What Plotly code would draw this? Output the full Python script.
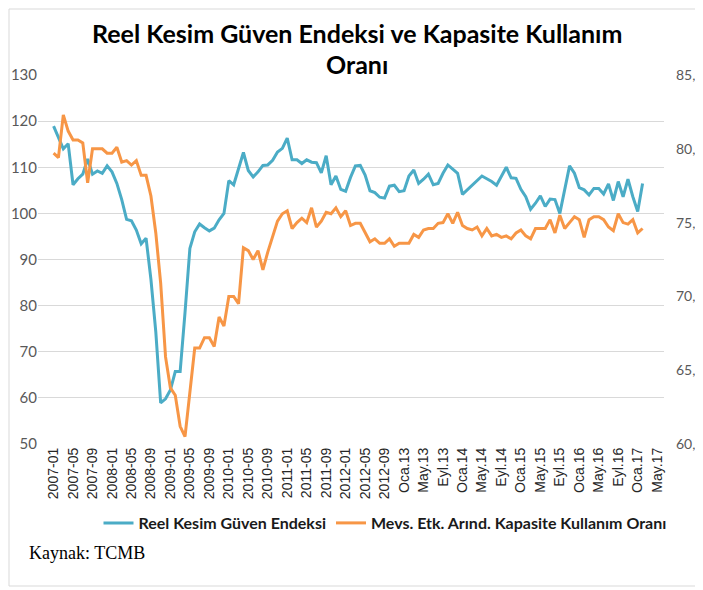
import plotly.graph_objects as go

# ---------------- data ----------------
first_year, first_month, n_months = 2007, 1, 125  # 2007-01 ... 2017-05
months = []
for i in range(n_months):
    y = first_year + (first_month - 1 + i) // 12
    m = (first_month - 1 + i) % 12 + 1
    months.append(f"{y}-{m:02d}")

tick_labels = ["2007-01", "2007-05", "2007-09", "2008-01", "2008-05", "2008-09",
               "2009-01", "2009-05", "2009-09", "2010-01", "2010-05", "2010-09",
               "2011-01", "2011-05", "2011-09", "2012-01", "2012-05", "2012-09",
               "Oca.13", "May.13", "Eyl.13", "Oca.14", "May.14", "Eyl.14",
               "Oca.15", "May.15", "Eyl.15", "Oca.16", "May.16", "Eyl.16",
               "Oca.17", "May.17"]
tick_months = months[::4]

# Reel Kesim Güven Endeksi (left axis), 2007-01 ... 2017-02
rkge = [118.9, 116.5, 114.0, 115.1, 106.2, 107.5, 108.5, 111.8, 108.5, 109.2,
        108.7, 110.3, 109.0, 106.5, 103.0, 98.7, 98.4, 96.4, 93.4, 94.6,
        85.7, 74.3, 58.9, 59.8, 61.7, 65.7, 65.7, 78.5, 92.4, 96.0,
        97.7, 96.9, 96.2, 96.8, 98.6, 100.0, 107.1, 106.2, 109.6, 113.2,
        109.3, 107.9, 109.0, 110.4, 110.5, 111.5, 113.3, 114.1, 116.3, 111.6,
        111.6, 110.8, 111.6, 111.1, 111.0, 108.8, 112.5, 106.2, 108.1, 105.2,
        104.8, 107.8, 110.3, 110.4, 108.3, 104.9, 104.5, 103.5, 103.3, 105.9,
        106.1, 104.7, 104.9, 108.1, 109.4, 106.5, 107.4, 108.5, 106.2, 106.5,
        108.7, 110.5, 109.6, 108.7, 104.1, 105.1, 106.2, 107.2, 108.1, 107.5,
        106.9, 106.1, 107.9, 110.0, 107.7, 107.6, 105.2, 103.6, 100.9, 102.2,
        103.8, 101.5, 103.1, 103.0, 100.0, 105.4, 110.3, 108.7, 105.6, 105.1,
        104.0, 105.4, 105.4, 104.2, 106.4, 102.8, 106.9, 103.6, 107.4, 103.6,
        100.4, 106.5]

# Mevs. Etk. Arınd. Kapasite Kullanım Oranı (right axis), 2007-01 ... 2017-02
kko = [79.7, 79.4, 82.3, 81.2, 80.6, 80.6, 80.4, 77.7, 80.0, 80.0,
       80.0, 79.7, 79.7, 80.1, 79.1, 79.2, 78.9, 79.2, 78.2, 78.2,
       76.8, 74.3, 70.9, 65.9, 63.8, 63.3, 61.2, 60.5, 63.5, 66.5,
       66.5, 67.2, 67.2, 66.6, 68.6, 68.0, 70.0, 70.0, 69.5, 73.3,
       73.1, 72.5, 73.1, 71.8, 73.0, 74.0, 75.1, 75.6, 75.8, 74.6,
       75.0, 75.3, 75.0, 76.0, 74.7, 75.1, 75.7, 75.6, 76.0, 75.4,
       75.8, 74.8, 74.95, 74.95, 74.3, 73.7, 73.9, 73.6, 73.6, 73.9,
       73.4, 73.6, 73.6, 73.6, 74.2, 74.0, 74.5, 74.6, 74.6, 74.95,
       75.0, 75.6, 74.95, 75.7, 74.8, 74.6, 74.5, 74.7, 74.1, 74.6,
       74.1, 74.2, 74.0, 74.1, 73.9, 74.3, 74.5, 74.1, 73.9, 74.6,
       74.6, 74.6, 75.2, 74.3, 75.5, 74.6, 75.0, 75.4, 75.2, 74.0,
       75.2, 75.4, 75.4, 75.2, 74.7, 74.45, 75.6, 75.0, 74.9, 75.2,
       74.3, 74.6]

name_rkge = "Reel Kesim Güven Endeksi"
name_kko = "Mevs. Etk. Arınd. Kapasite Kullanım Oranı"

# ---------------- figure ----------------
OFF = 8                      # page body margin
W, H = 703 - OFF, 590 - OFF
PL, PR, PT, PB = 38, 664, 75, 444   # plot area in page pixels
L, R, T, B = PL - OFF, W - (PR - OFF), PT - OFF, H - (PB - OFF)
pw, ph = PR - PL, PB - PT

def px_x(x):
    return (x - PL) / pw

def px_y(y):
    return (PB - y) / ph

fig = go.Figure()
fig.add_trace(go.Scatter(x=months[:len(rkge)], y=rkge, name="<b>" + name_rkge + "</b>", mode="lines",
                         line=dict(color="#4BACC6", width=3)))
fig.add_trace(go.Scatter(x=months[:len(kko)], y=kko, name="<b>" + name_kko + "</b>", mode="lines",
                         yaxis="y2", line=dict(color="#F79646", width=3)))

fig.update_layout(
    width=W, height=H,
    margin=dict(l=L, r=R, t=T, b=B, autoexpand=False),
    paper_bgcolor="white", plot_bgcolor="white",
    separators=",.",
    showlegend=True,
    legend=dict(orientation="h", x=px_x(385), xanchor="center", y=px_y(523), yanchor="middle",
                font=dict(family="Lato", size=16, color="#1a1a1a"),
                itemwidth=30, tracegroupgap=0, bgcolor="rgba(0,0,0,0)"),
    xaxis=dict(type="category", categoryorder="array", categoryarray=months,
               range=[-3.2, 125.4], tickmode="array", tickvals=tick_months, ticktext=tick_labels,
               tickangle=-90, showgrid=False, zeroline=False, showline=False, ticks="",
               tickfont=dict(family="Liberation Sans", size=14, color="#262626")),
    yaxis=dict(range=[50, 130], dtick=10, tick0=50, showgrid=True, gridcolor="#D9D9D9", gridwidth=1,
               zeroline=False, showline=False, ticks="", ticklabelstandoff=0,
               tickfont=dict(family="Lato", size=15, color="#595959")),
    yaxis2=dict(range=[60, 85], dtick=5, tick0=60, tickformat=".1f", overlaying="y", side="right",
                showgrid=False, zeroline=False, showline=False, ticks="", ticklabelstandoff=11,
                tickfont=dict(family="Lato", size=14, color="#595959")),
)

fig.add_annotation(text="Reel Kesim Güven Endeksi ve Kapasite Kullanım", xref="paper", yref="paper",
                   x=px_x(357), y=px_y(33), xanchor="center", yanchor="middle", showarrow=False,
                   font=dict(family="Lato", size=25, color="#000000", weight="bold"))
fig.add_annotation(text="Oranı", xref="paper", yref="paper",
                   x=px_x(357), y=px_y(64), xanchor="center", yanchor="middle", showarrow=False,
                   font=dict(family="Lato", size=25, color="#000000", weight="bold"))
fig.add_annotation(text="Kaynak: TCMB", xref="paper", yref="paper",
                   x=px_x(27), y=px_y(553), xanchor="left", yanchor="middle", showarrow=False,
                   font=dict(family="Liberation Serif", size=18, color="#000000"))

fig.add_shape(type="rect", xref="paper", yref="paper",
              x0=px_x(9), x1=px_x(699), y0=px_y(586), y1=px_y(9),
              line=dict(color="#D9D9D9", width=1), fillcolor="rgba(0,0,0,0)", layer="below")

fig.write_html("out.html")
